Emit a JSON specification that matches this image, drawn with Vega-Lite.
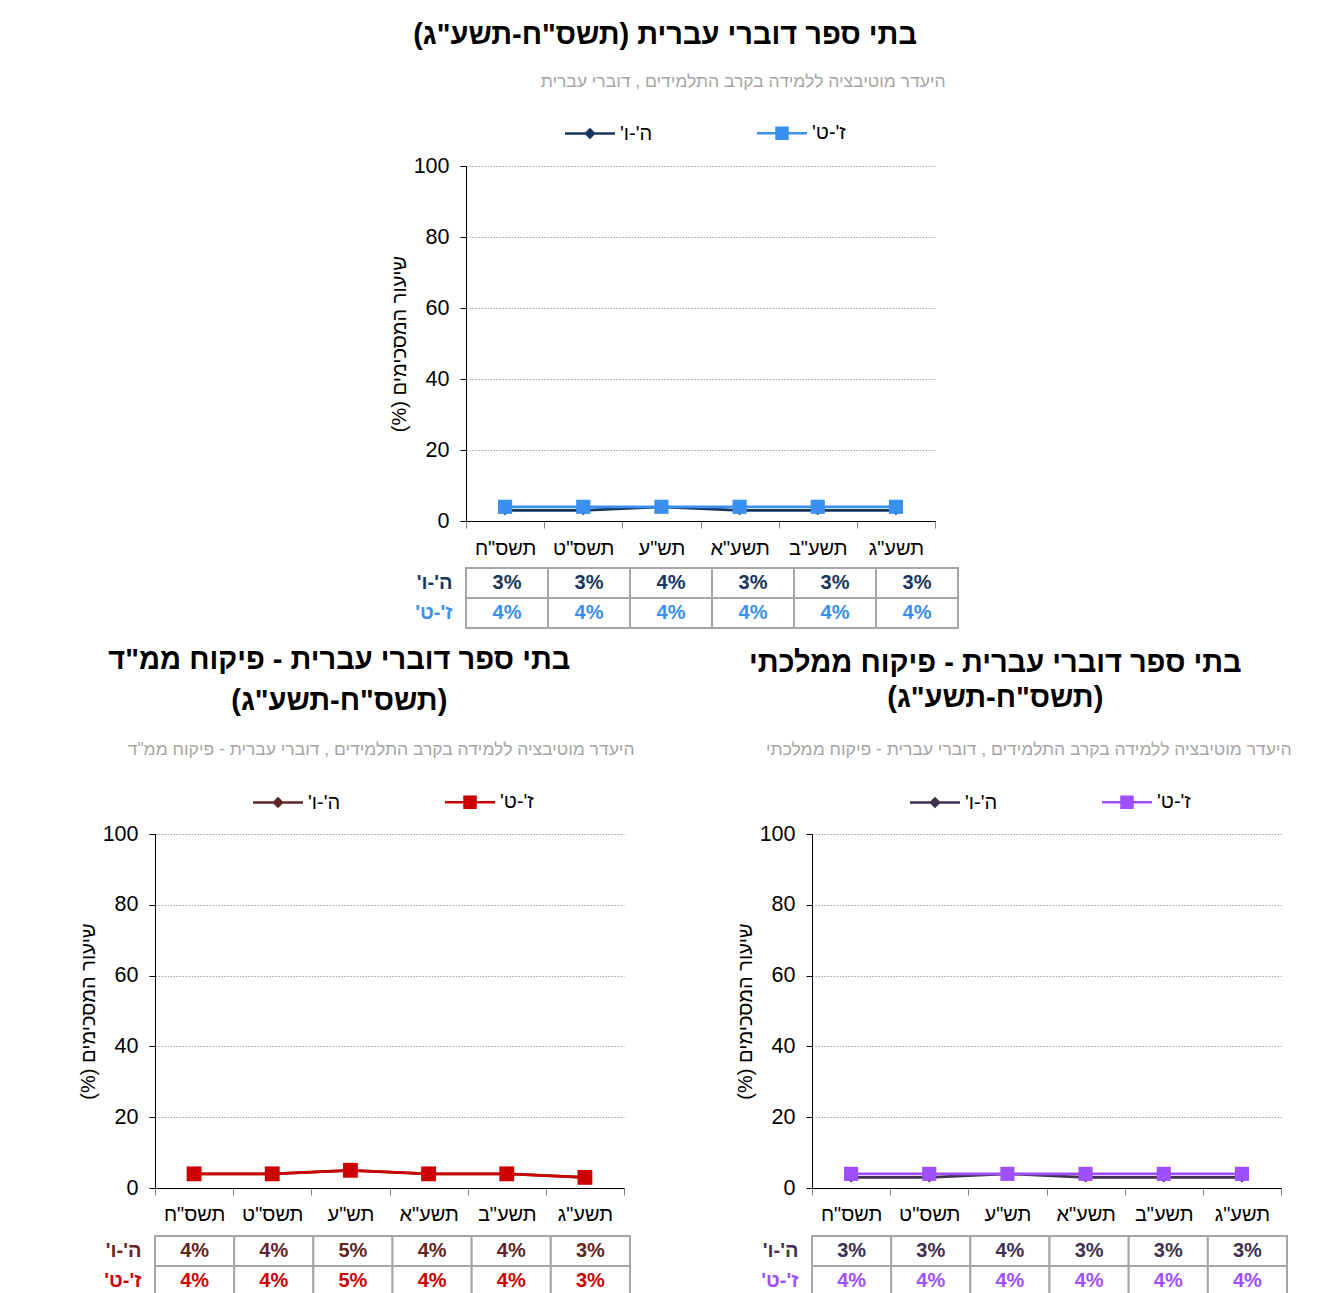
{
  "$schema": "https://vega.github.io/schema/vega-lite/v6.json",
  "background": "white",
  "padding": {"left": 78, "top": 20, "right": 0, "bottom": 0},
  "datasets": {
    "top": [
      {"year": "תשס\"ח", "grade": "ה'-ו'", "value": 0.03},
      {"year": "תשס\"ט", "grade": "ה'-ו'", "value": 0.03},
      {"year": "תש\"ע", "grade": "ה'-ו'", "value": 0.04},
      {"year": "תשע\"א", "grade": "ה'-ו'", "value": 0.03},
      {"year": "תשע\"ב", "grade": "ה'-ו'", "value": 0.03},
      {"year": "תשע\"ג", "grade": "ה'-ו'", "value": 0.03},
      {"year": "תשס\"ח", "grade": "ז'-ט'", "value": 0.04},
      {"year": "תשס\"ט", "grade": "ז'-ט'", "value": 0.04},
      {"year": "תש\"ע", "grade": "ז'-ט'", "value": 0.04},
      {"year": "תשע\"א", "grade": "ז'-ט'", "value": 0.04},
      {"year": "תשע\"ב", "grade": "ז'-ט'", "value": 0.04},
      {"year": "תשע\"ג", "grade": "ז'-ט'", "value": 0.04}
    ],
    "mmd": [
      {"year": "תשס\"ח", "grade": "ה'-ו'", "value": 0.04},
      {"year": "תשס\"ט", "grade": "ה'-ו'", "value": 0.04},
      {"year": "תש\"ע", "grade": "ה'-ו'", "value": 0.05},
      {"year": "תשע\"א", "grade": "ה'-ו'", "value": 0.04},
      {"year": "תשע\"ב", "grade": "ה'-ו'", "value": 0.04},
      {"year": "תשע\"ג", "grade": "ה'-ו'", "value": 0.03},
      {"year": "תשס\"ח", "grade": "ז'-ט'", "value": 0.04},
      {"year": "תשס\"ט", "grade": "ז'-ט'", "value": 0.04},
      {"year": "תש\"ע", "grade": "ז'-ט'", "value": 0.05},
      {"year": "תשע\"א", "grade": "ז'-ט'", "value": 0.04},
      {"year": "תשע\"ב", "grade": "ז'-ט'", "value": 0.04},
      {"year": "תשע\"ג", "grade": "ז'-ט'", "value": 0.03}
    ],
    "mml": [
      {"year": "תשס\"ח", "grade": "ה'-ו'", "value": 0.03},
      {"year": "תשס\"ט", "grade": "ה'-ו'", "value": 0.03},
      {"year": "תש\"ע", "grade": "ה'-ו'", "value": 0.04},
      {"year": "תשע\"א", "grade": "ה'-ו'", "value": 0.03},
      {"year": "תשע\"ב", "grade": "ה'-ו'", "value": 0.03},
      {"year": "תשע\"ג", "grade": "ה'-ו'", "value": 0.03},
      {"year": "תשס\"ח", "grade": "ז'-ט'", "value": 0.04},
      {"year": "תשס\"ט", "grade": "ז'-ט'", "value": 0.04},
      {"year": "תש\"ע", "grade": "ז'-ט'", "value": 0.04},
      {"year": "תשע\"א", "grade": "ז'-ט'", "value": 0.04},
      {"year": "תשע\"ב", "grade": "ז'-ט'", "value": 0.04},
      {"year": "תשע\"ג", "grade": "ז'-ט'", "value": 0.04}
    ]
  },
  "spacing": 16,
  "resolve": {"scale": {"color": "independent", "shape": "independent"}},
  "vconcat": [
    {
      "spacing": 0,
      "resolve": {"scale": {"color": "independent", "shape": "independent"}},
      "hconcat": [
        {"width": 234, "height": 10, "data": {"values": []}, "mark": {"type": "point", "opacity": 0}, "encoding": {}},
        {
          "title": {"text": "בתי ספר דוברי עברית (תשס\"ח-תשע\"ג)‏", "offset": 23, "dx": -9},
          "spacing": 47,
          "bounds": "flush",
          "resolve": {"scale": {"color": "independent", "shape": "independent"}},
          "vconcat": [
            {
              "width": 469, "height": 355,
              "data": {"name": "top"},
              "title": {"text": "היעדר מוטיבציה ללמידה בקרב התלמידים , דוברי עברית", "anchor": "end", "dx": 10, "fontSize": 17.5, "fontWeight": "normal", "color": "#A6A6A6", "offset": 33},
              "encoding": {
                "x": {"field": "year", "type": "ordinal", "sort": ["תשס\"ח", "תשס\"ט", "תש\"ע", "תשע\"א", "תשע\"ב", "תשע\"ג"], "scale": {"type": "band", "paddingInner": 0, "paddingOuter": 0}, "axis": {"title": null, "labelAngle": 0, "labelFontSize": 20, "labelColor": "#000", "labelPadding": 10, "tickBand": "extent", "tickSize": 7, "tickColor": "#7F7F7F", "domainColor": "#000", "grid": false}},
                "y": {"field": "value", "type": "quantitative", "scale": {"domain": [0, 1], "nice": false}, "axis": {"title": "שיעור המסכימים (%)‏", "titleFontSize": 20, "titleFontWeight": "normal", "titleColor": "#000", "titlePadding": 4, "values": [0, 0.2, 0.4, 0.6, 0.8, 1], "labelExpr": "round(datum.value * 100)", "labelFontSize": 21.5, "labelColor": "#000", "labelPadding": 11, "tickSize": 6, "tickColor": "#000", "domainColor": "#000", "grid": true, "gridColor": "#A0A0A0", "gridDash": [1.5, 1.5]}},
                "color": {"field": "grade", "type": "nominal", "scale": {"domain": ["ה'-ו'", "ז'-ט'"], "range": ["#17375E", "#3A90F0"]},
                  "legend": {"title": null, "orient": "none", "legendX": 99, "legendY": -43, "direction": "horizontal", "labelFontSize": 20, "labelColor": "#000", "labelExpr": "datum.label + '‏'", "symbolSize": 100, "symbolStrokeWidth": 2.5, "symbolOpacity": 1, "symbolOffset": 15, "labelOffset": 20, "columnPadding": 99}}
              },
              "layer": [
                {"mark": {"type": "line", "strokeWidth": 2.75}},
                {"mark": {"type": "point", "filled": true, "opacity": 1},
                 "encoding": {
                   "shape": {"condition": {"test": "datum.grade === \"ה'-ו'\"", "value": "diamond"}, "value": "square"},
                   "size": {"condition": {"test": "datum.grade === \"ה'-ו'\"", "value": 100}, "value": 200}}},
                {"mark": {"type": "point", "filled": true, "opacity": 0},
                 "encoding": {
                   "shape": {"field": "grade", "type": "nominal", "scale": {"domain": ["ה'-ו'", "ז'-ט'"], "range": ["M-5,0H5M0,-0.8L0.8,0L0,0.8L-0.8,0Z", "M-5,0H5M-1.1,-1.1H1.1V1.1H-1.1Z"]}, "legend": null}}}
              ]
            },
            {
              "width": 492, "height": 60,
              "data": {"name": "top"},
              "encoding": {
                "x": {"field": "year", "type": "ordinal", "sort": ["תשס\"ח", "תשס\"ט", "תש\"ע", "תשע\"א", "תשע\"ב", "תשע\"ג"], "scale": {"type": "band", "paddingInner": 0, "paddingOuter": 0}, "axis": null},
                "y": {"field": "grade", "type": "ordinal", "sort": ["ה'-ו'", "ז'-ט'"], "scale": {"type": "band", "paddingInner": 0, "paddingOuter": 0},
                  "axis": {"title": null, "domain": false, "ticks": false, "labelFontSize": 20, "labelFontWeight": "bold", "labelPadding": 14, "labelExpr": "datum.label + '‏'",
                    "labelColor": {"condition": {"test": "datum.value === \"ה'-ו'\"", "value": "#17375E"}, "value": "#3A90F0"}}}
              },
              "layer": [
                {"mark": {"type": "rect", "fill": "#FFFFFF", "stroke": "#A6A6A6", "strokeWidth": 2}},
                {"mark": {"type": "text", "fontSize": 20, "fontWeight": "bold"},
                 "encoding": {"text": {"field": "value", "type": "quantitative", "format": ".0%"},
                   "color": {"field": "grade", "type": "nominal", "scale": {"domain": ["ה'-ו'", "ז'-ט'"], "range": ["#17375E", "#3A90F0"]}, "legend": null}}}
              ]
            }
          ]
        }
      ]
    },
    {
      "spacing": 100,
      "resolve": {"scale": {"color": "independent", "shape": "independent"}},
      "hconcat": [
        {
          "title": {"text": ["בתי ספר דוברי עברית - פיקוח ממ\"ד", "(תשס\"ח-תשע\"ג)"], "lineHeight": 41, "dx": -17, "offset": 25},
          "spacing": 48,
          "bounds": "flush",
          "resolve": {"scale": {"color": "independent", "shape": "independent"}},
          "vconcat": [
            {
              "width": 469, "height": 354,
              "data": {"name": "mmd"},
              "title": {"text": "היעדר מוטיבציה ללמידה בקרב התלמידים , דוברי עברית - פיקוח ממ\"ד", "anchor": "end", "dx": 10, "fontSize": 17.5, "fontWeight": "normal", "color": "#A6A6A6", "offset": 34},
              "encoding": {
                "x": {"field": "year", "type": "ordinal", "sort": ["תשס\"ח", "תשס\"ט", "תש\"ע", "תשע\"א", "תשע\"ב", "תשע\"ג"], "scale": {"type": "band", "paddingInner": 0, "paddingOuter": 0}, "axis": {"title": null, "labelAngle": 0, "labelFontSize": 20, "labelColor": "#000", "labelPadding": 9, "tickBand": "extent", "tickSize": 7, "tickColor": "#7F7F7F", "domainColor": "#000", "grid": false}},
                "y": {"field": "value", "type": "quantitative", "scale": {"domain": [0, 1], "nice": false}, "axis": {"title": "שיעור המסכימים (%)‏", "titleFontSize": 20, "titleFontWeight": "normal", "titleColor": "#000", "titlePadding": 4, "values": [0, 0.2, 0.4, 0.6, 0.8, 1], "labelExpr": "round(datum.value * 100)", "labelFontSize": 21.5, "labelColor": "#000", "labelPadding": 11, "tickSize": 6, "tickColor": "#000", "domainColor": "#000", "grid": true, "gridColor": "#A0A0A0", "gridDash": [1.5, 1.5]}},
                "color": {"field": "grade", "type": "nominal", "scale": {"domain": ["ה'-ו'", "ז'-ט'"], "range": ["#632523", "#CC0000"]},
                  "legend": {"title": null, "orient": "none", "legendX": 98, "legendY": -42, "direction": "horizontal", "labelFontSize": 20, "labelColor": "#000", "labelExpr": "datum.label + '‏'", "symbolSize": 100, "symbolStrokeWidth": 2.5, "symbolOpacity": 1, "symbolOffset": 15, "labelOffset": 20, "columnPadding": 99}}
              },
              "layer": [
                {"mark": {"type": "line", "strokeWidth": 2.75}},
                {"mark": {"type": "point", "filled": true, "opacity": 1},
                 "encoding": {
                   "shape": {"condition": {"test": "datum.grade === \"ה'-ו'\"", "value": "diamond"}, "value": "square"},
                   "size": {"condition": {"test": "datum.grade === \"ה'-ו'\"", "value": 100}, "value": 220}}},
                {"mark": {"type": "point", "filled": true, "opacity": 0},
                 "encoding": {
                   "shape": {"field": "grade", "type": "nominal", "scale": {"domain": ["ה'-ו'", "ז'-ט'"], "range": ["M-5,0H5M0,-0.8L0.8,0L0,0.8L-0.8,0Z", "M-5,0H5M-1.1,-1.1H1.1V1.1H-1.1Z"]}, "legend": null}}}
              ]
            },
            {
              "width": 475, "height": 60,
              "data": {"name": "mmd"},
              "encoding": {
                "x": {"field": "year", "type": "ordinal", "sort": ["תשס\"ח", "תשס\"ט", "תש\"ע", "תשע\"א", "תשע\"ב", "תשע\"ג"], "scale": {"type": "band", "paddingInner": 0, "paddingOuter": 0}, "axis": null},
                "y": {"field": "grade", "type": "ordinal", "sort": ["ה'-ו'", "ז'-ט'"], "scale": {"type": "band", "paddingInner": 0, "paddingOuter": 0},
                  "axis": {"title": null, "domain": false, "ticks": false, "labelFontSize": 20, "labelFontWeight": "bold", "labelPadding": 14, "labelExpr": "datum.label + '‏'",
                    "labelColor": {"condition": {"test": "datum.value === \"ה'-ו'\"", "value": "#632523"}, "value": "#CC0000"}}}
              },
              "layer": [
                {"mark": {"type": "rect", "fill": "#FFFFFF", "stroke": "#A6A6A6", "strokeWidth": 2}},
                {"mark": {"type": "text", "fontSize": 20, "fontWeight": "bold"},
                 "encoding": {"text": {"field": "value", "type": "quantitative", "format": ".0%"},
                   "color": {"field": "grade", "type": "nominal", "scale": {"domain": ["ה'-ו'", "ז'-ט'"], "range": ["#632523", "#CC0000"]}, "legend": null}}}
              ]
            }
          ]
        },
        {
          "title": {"text": ["בתי ספר דוברי עברית - פיקוח ממלכתי", "(תשס\"ח-תשע\"ג)"], "lineHeight": 35, "dx": -18, "offset": 28},
          "spacing": 48,
          "bounds": "flush",
          "resolve": {"scale": {"color": "independent", "shape": "independent"}},
          "vconcat": [
            {
              "width": 469, "height": 354,
              "data": {"name": "mml"},
              "title": {"text": "היעדר מוטיבציה ללמידה בקרב התלמידים , דוברי עברית - פיקוח ממלכתי", "anchor": "end", "dx": 10, "fontSize": 17.5, "fontWeight": "normal", "color": "#A6A6A6", "offset": 34},
              "encoding": {
                "x": {"field": "year", "type": "ordinal", "sort": ["תשס\"ח", "תשס\"ט", "תש\"ע", "תשע\"א", "תשע\"ב", "תשע\"ג"], "scale": {"type": "band", "paddingInner": 0, "paddingOuter": 0}, "axis": {"title": null, "labelAngle": 0, "labelFontSize": 20, "labelColor": "#000", "labelPadding": 9, "tickBand": "extent", "tickSize": 7, "tickColor": "#7F7F7F", "domainColor": "#000", "grid": false}},
                "y": {"field": "value", "type": "quantitative", "scale": {"domain": [0, 1], "nice": false}, "axis": {"title": "שיעור המסכימים (%)‏", "titleFontSize": 20, "titleFontWeight": "normal", "titleColor": "#000", "titlePadding": 4, "values": [0, 0.2, 0.4, 0.6, 0.8, 1], "labelExpr": "round(datum.value * 100)", "labelFontSize": 21.5, "labelColor": "#000", "labelPadding": 11, "tickSize": 6, "tickColor": "#000", "domainColor": "#000", "grid": true, "gridColor": "#A0A0A0", "gridDash": [1.5, 1.5]}},
                "color": {"field": "grade", "type": "nominal", "scale": {"domain": ["ה'-ו'", "ז'-ט'"], "range": ["#403152", "#9F4FFF"]},
                  "legend": {"title": null, "orient": "none", "legendX": 98, "legendY": -42, "direction": "horizontal", "labelFontSize": 20, "labelColor": "#000", "labelExpr": "datum.label + '‏'", "symbolSize": 100, "symbolStrokeWidth": 2.5, "symbolOpacity": 1, "symbolOffset": 15, "labelOffset": 20, "columnPadding": 99}}
              },
              "layer": [
                {"mark": {"type": "line", "strokeWidth": 2.75}},
                {"mark": {"type": "point", "filled": true, "opacity": 1},
                 "encoding": {
                   "shape": {"condition": {"test": "datum.grade === \"ה'-ו'\"", "value": "diamond"}, "value": "square"},
                   "size": {"condition": {"test": "datum.grade === \"ה'-ו'\"", "value": 100}, "value": 200}}},
                {"mark": {"type": "point", "filled": true, "opacity": 0},
                 "encoding": {
                   "shape": {"field": "grade", "type": "nominal", "scale": {"domain": ["ה'-ו'", "ז'-ט'"], "range": ["M-5,0H5M0,-0.8L0.8,0L0,0.8L-0.8,0Z", "M-5,0H5M-1.1,-1.1H1.1V1.1H-1.1Z"]}, "legend": null}}}
              ]
            },
            {
              "width": 475, "height": 60,
              "data": {"name": "mml"},
              "encoding": {
                "x": {"field": "year", "type": "ordinal", "sort": ["תשס\"ח", "תשס\"ט", "תש\"ע", "תשע\"א", "תשע\"ב", "תשע\"ג"], "scale": {"type": "band", "paddingInner": 0, "paddingOuter": 0}, "axis": null},
                "y": {"field": "grade", "type": "ordinal", "sort": ["ה'-ו'", "ז'-ט'"], "scale": {"type": "band", "paddingInner": 0, "paddingOuter": 0},
                  "axis": {"title": null, "domain": false, "ticks": false, "labelFontSize": 20, "labelFontWeight": "bold", "labelPadding": 14, "labelExpr": "datum.label + '‏'",
                    "labelColor": {"condition": {"test": "datum.value === \"ה'-ו'\"", "value": "#403152"}, "value": "#9F4FFF"}}}
              },
              "layer": [
                {"mark": {"type": "rect", "fill": "#FFFFFF", "stroke": "#A6A6A6", "strokeWidth": 2}},
                {"mark": {"type": "text", "fontSize": 20, "fontWeight": "bold"},
                 "encoding": {"text": {"field": "value", "type": "quantitative", "format": ".0%"},
                   "color": {"field": "grade", "type": "nominal", "scale": {"domain": ["ה'-ו'", "ז'-ט'"], "range": ["#403152", "#9F4FFF"]}, "legend": null}}}
              ]
            }
          ]
        }
      ]
    }
  ],
  "config": {
    "font": "Liberation Sans",
    "view": {"stroke": null},
    "title": {"font": "Liberation Sans", "fontSize": 29, "fontWeight": "bold", "color": "#000", "anchor": "middle"},
    "axis": {"labelFont": "Liberation Sans", "titleFont": "Liberation Sans"},
    "legend": {"labelFont": "Liberation Sans"},
    "text": {"font": "Liberation Sans"}
  }
}
